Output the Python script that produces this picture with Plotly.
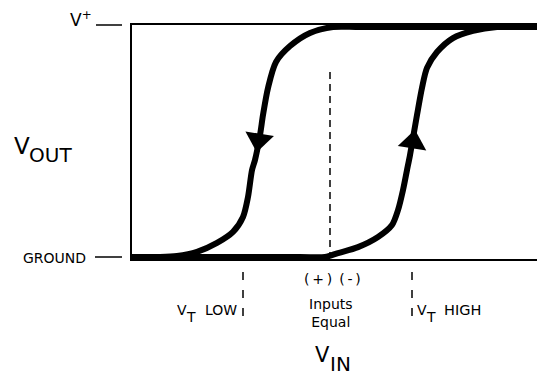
import plotly.graph_objects as go

# V_IN is measured from the point where the inputs are equal (arbitrary units)
# V_OUT is normalised: 0 = ground, 1 = V+
rise_vin = [-1.98, -0.30, -0.05, 0.08, 0.28, 0.48, 0.62, 0.68, 0.73, 0.77, 0.80,
            0.87, 0.92, 0.97, 1.07, 1.23, 1.43, 1.67, 1.90, 2.07]
rise_vout = [0.0, 0.0, 0.0, 0.017, 0.043, 0.087, 0.139, 0.204, 0.291, 0.378, 0.443,
             0.617, 0.735, 0.822, 0.891, 0.952, 0.983, 1.0, 1.0, 1.0]

fall_vin = [2.07, 0.30, 0.03, -0.20, -0.40, -0.54, -0.62, -0.67, -0.70, -0.75, -0.78,
            -0.82, -0.87, -0.97, -1.13, -1.33, -1.53, -1.70]
fall_vout = [1.0, 1.0, 1.0, 0.974, 0.917, 0.848, 0.735, 0.617, 0.530, 0.422, 0.378,
             0.261, 0.174, 0.109, 0.061, 0.022, 0.004, 0.0]

# direction arrows on the two transitions
arrow_vin = [-0.713, 0.83]
arrow_vout = [0.509, 0.50]
arrow_symbol = ["triangle-down", "triangle-up"]

inputs_equal = 0.0
inputs_equal_top = 0.804
vt_low = -0.87
vt_high = 0.82

W, H = 537, 374
M_L, M_R, M_T, M_B = 132, 0, 25, 115
PLOT_W = W - M_L - M_R
PLOT_H = H - M_T - M_B
FONT = "DejaVu Sans"


def px(x):
    return (x - M_L) / PLOT_W


def py(y):
    return (H - M_B - y) / PLOT_H


fig = go.Figure()

# reference line where inputs are equal
fig.add_trace(go.Scatter(
    x=[inputs_equal, inputs_equal], y=[inputs_equal_top, 0],
    mode="lines", line=dict(color="black", width=1.5, dash="7px,5px"),
    hoverinfo="skip"
))

# hysteresis loop
fig.add_trace(go.Scatter(
    x=rise_vin, y=rise_vout, mode="lines",
    line=dict(color="black", width=6, shape="spline", smoothing=0.8),
    hoverinfo="skip"
))
fig.add_trace(go.Scatter(
    x=fall_vin, y=fall_vout, mode="lines",
    line=dict(color="black", width=6, shape="spline", smoothing=0.8),
    hoverinfo="skip"
))

# arrow heads
fig.add_trace(go.Scatter(
    x=arrow_vin, y=arrow_vout, mode="markers",
    marker=dict(symbol=arrow_symbol, size=25, angle=9, color="black",
                line=dict(width=0)),
    cliponaxis=False, hoverinfo="skip"
))

# threshold markers under the axis
for vt in [vt_low, vt_high]:
    fig.add_shape(type="line", xref="x", yref="paper",
                  x0=vt, x1=vt, y0=py(272), y1=py(321),
                  line=dict(color="black", width=1.5, dash="8px,10px"))

# rail ticks
fig.add_shape(type="line", xref="paper", yref="paper",
              x0=px(96), x1=px(122), y0=1, y1=1,
              line=dict(color="black", width=1.5))
fig.add_shape(type="line", xref="paper", yref="y",
              x0=px(95), x1=px(122), y0=0, y1=0,
              line=dict(color="black", width=1.5))


def label(text, x, y, size, anchor="left"):
    fig.add_annotation(text=text, xref="paper", yref="paper",
                       x=px(x), y=py(y), xanchor=anchor, yanchor="middle",
                       showarrow=False, font=dict(family=FONT, size=size, color="black"))


label("V<sup>+</sup>", 94, 19, 17, "right")
label("V", 12, 146, 23)
label("OUT", 27, 155, 20)
label("GROUND", 21, 257.5, 14)

label("V", 175, 310, 14)
label("T", 184, 317, 14)
label("LOW", 203, 310, 14)

label("(\u2009+\u2009)\u2002(\u2009-\u2009)", 332, 279, 14, "center")
label("Inputs<br>Equal", 331, 312.5, 14, "center")

label("V", 415, 310, 14)
label("T", 424, 317, 14)
label("HIGH", 442, 310, 14.5)

label("V", 313, 354.5, 21)
label("IN", 328, 363.5, 20)

fig.update_layout(
    width=W, height=H,
    margin=dict(l=M_L, r=M_R, t=M_T, b=M_B),
    paper_bgcolor="white", plot_bgcolor="white",
    showlegend=False,
    xaxis=dict(range=[-1.98, 2.07], showline=True, mirror=True, linecolor="black",
               linewidth=2, showgrid=False, zeroline=False, showticklabels=False,
               ticks="", fixedrange=True),
    yaxis=dict(range=[-2 / 230, 232 / 230], showline=True, linecolor="black",
               linewidth=2, showgrid=False, zeroline=False, showticklabels=False,
               ticks="", fixedrange=True),
)

fig.write_html("out.html", config={"displayModeBar": False},
               post_script="document.body.style.margin='0';document.body.style.overflow='hidden';")
